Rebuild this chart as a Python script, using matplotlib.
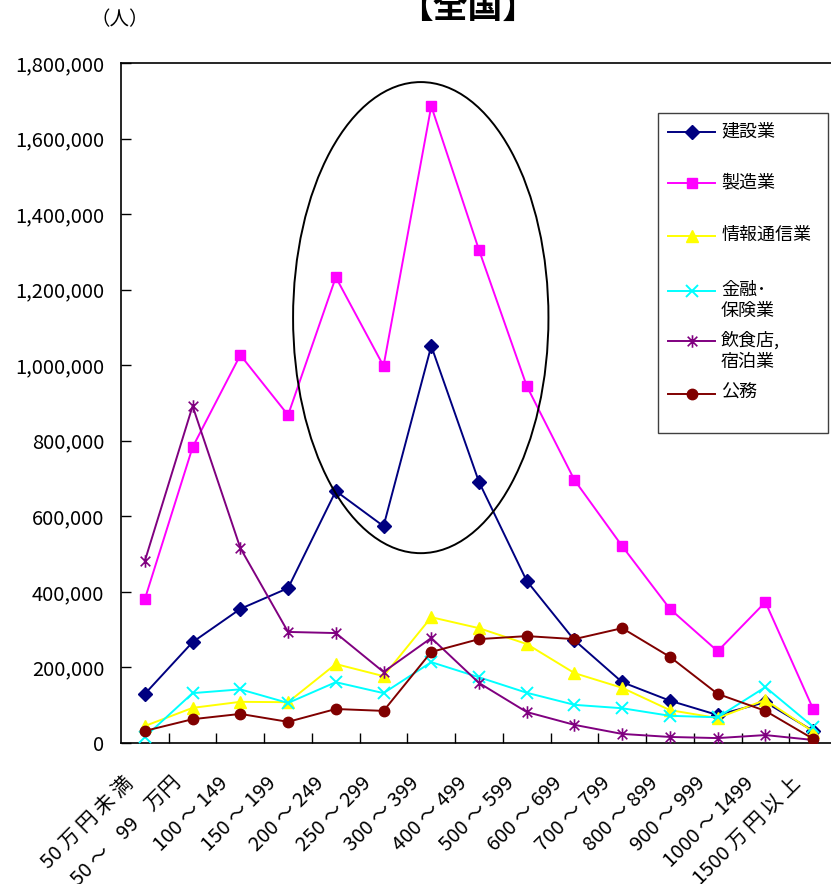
import matplotlib
matplotlib.use("Agg")
import matplotlib.pyplot as plt
from matplotlib.patches import Ellipse, Rectangle
from matplotlib.lines import Line2D
from matplotlib.path import Path
from matplotlib.ticker import FuncFormatter
from matplotlib.transforms import ScaledTranslation

plt.rcParams['font.family'] = ['Noto Sans CJK JP', 'DejaVu Sans']

# 年収階級
categories = ["50 万 円 未 満", "50 ～    99    万円", "100 ～ 149", "150 ～ 199",
              "200 ～ 249", "250 ～ 299", "300 ～ 399", "400 ～ 499",
              "500 ～ 599", "600 ～ 699", "700 ～ 799", "800 ～ 899",
              "900 ～ 999", "1000 ～ 1499", "1500 万 円 以 上"]

# 業種別の人数
construction = [130000, 267000, 355000, 410000, 667000, 574000, 1051000, 691000,
                429000, 272000, 161000, 112000, 74000, 108000, 32000]
manufacturing = [381000, 783000, 1027000, 868000, 1233000, 998000, 1686000, 1305000,
                 945000, 696000, 521000, 355000, 243000, 373000, 90000]
info_comm = [45000, 93000, 109000, 108000, 209000, 177000, 333000, 304000,
             262000, 185000, 146000, 87000, 66000, 114000, 30000]
finance = [16000, 132000, 142000, 106000, 161000, 132000, 214000, 174000,
           133000, 101000, 92000, 72000, 68000, 148000, 43000]
food_lodging = [482000, 892000, 516000, 294000, 291000, 188000, 278000, 159000,
                82000, 48000, 24000, 16000, 13000, 21000, 8000]
public_service = [32000, 63000, 77000, 56000, 90000, 85000, 241000, 275000,
                  283000, 275000, 304000, 228000, 130000, 85000, 11000]

labels = ["建設業", "製造業", "情報通信業", "金融･\n保険業", "飲食店,\n宿泊業", "公務"]

# Excel風のアスタリスクマーカー（× と縦線）
star = Path([(-1, -1), (1, 1), (-1, 1), (1, -1), (0, -1.3), (0, 1.3)],
            [Path.MOVETO, Path.LINETO, Path.MOVETO, Path.LINETO, Path.MOVETO, Path.LINETO])

styles = [
    dict(color="#000080", marker="D", ms=7, mec="#000080"),
    dict(color="#FF00FF", marker="s", ms=7, mec="#FF00FF"),
    dict(color="#FFFF00", marker="^", ms=8, mec="#FFFF00"),
    dict(color="#00FFFF", marker="x", ms=8, mew=1.4),
    dict(color="#800080", marker=star, ms=9, mew=1.2),
    dict(color="#800000", marker="o", ms=7.5, mec="#800000"),
]
series = [construction, manufacturing, info_comm, finance, food_lodging, public_service]

fig = plt.figure(figsize=(8.31, 8.84), dpi=100)
ax = fig.add_axes([121 / 831, 141 / 884, 716 / 831, 680 / 884])

x = list(range(len(categories)))
for vals, st in zip(series, styles):
    ax.plot(x, vals, lw=1.4, zorder=3, **st)

ax.set_xlim(-0.5, len(categories) - 0.5)
ax.set_ylim(0, 1800000)
ax.set_yticks(range(0, 1800001, 200000))
ax.yaxis.set_major_formatter(FuncFormatter(lambda v, p: f"{int(v):,}"))
ax.tick_params(axis="y", direction="in", length=7, width=1, labelsize=14.5, pad=12)

ax.set_xticks(x)
ax.set_xticklabels(categories, rotation=45, ha="right", va="center",
                   rotation_mode="anchor", fontsize=14.5)
ax.tick_params(axis="x", length=0, pad=0)
shift = ScaledTranslation(-15 / 100, -37 / 100, fig.dpi_scale_trans)
for lab in ax.get_xticklabels():
    lab.set_transform(lab.get_transform() + shift)
# 区切りの目盛り
ax.set_xticks([i + 0.5 for i in range(len(categories) - 1)], minor=True)
ax.tick_params(axis="x", which="minor", direction="in", length=7, width=1)

for sp in ax.spines.values():
    sp.set_linewidth(1.2)

# 注目部分の楕円
ax.add_patch(Ellipse((5.78, 1126000), 5.35, 1247000, fill=False,
                     edgecolor="black", lw=1.4, zorder=4))

# 凡例
ax.add_patch(Rectangle((0.750, 0.456), 0.237, 0.470, transform=ax.transAxes,
                       facecolor="white", edgecolor="#404040", lw=1, zorder=5))
leg_y = [0.898, 0.823, 0.746, 0.665, 0.591, 0.513]
for yy, lab, st in zip(leg_y, labels, styles):
    ax.add_line(Line2D([0.764, 0.830], [yy, yy], transform=ax.transAxes,
                       color=st["color"], lw=1.4, zorder=6))
    mk = {k: v for k, v in st.items() if k != "color"}
    ax.add_line(Line2D([0.797], [yy], transform=ax.transAxes, color=st["color"],
                       ls="none", zorder=7, **mk))
    ax.text(0.838, yy + 0.015, lab, transform=ax.transAxes, fontsize=13,
            va="top", ha="left", linespacing=1.25, zorder=7)

fig.text(468 / 831, 1 - 18 / 884, "【全国】", ha="center", va="baseline",
         fontsize=25, fontweight="bold")
fig.text(120 / 831, 1 - 20 / 884, "（人）", ha="center", va="center", fontsize=14)

fig.savefig("out.png", dpi=100)
